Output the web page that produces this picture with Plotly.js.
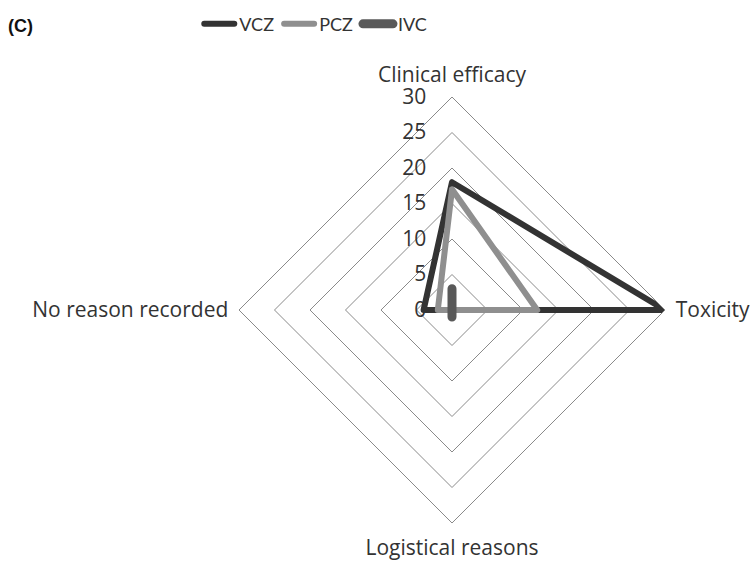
<!DOCTYPE html>
<html><head><meta charset="utf-8">
<script src="https://cdn.plot.ly/plotly-3.0.1.min.js"></script>
<style>
body{margin:0;background:#fff}#chart{width:752px;height:561px}
#chart path.js-line{stroke-linecap:round;stroke-linejoin:round}
</style>
</head><body><div id="chart"></div>
<script>
const categories = ["Clinical efficacy", "Toxicity", "Logistical reasons", "No reason recorded"];
const seriesNames = ["VCZ", "PCZ", "IVC"];
const vczValues = [18, 30, 0, 4];
const pczValues = [17, 12, 0, 2];
const ivcValues = [3, 0, 1, 0];
const radialTicks = [0, 5, 10, 15, 20, 25, 30];

const colors = ["#333333", "#8f8f8f", "#595959"];
const widths = [6, 6, 9];
const allValues = [vczValues, pczValues, ivcValues];

const traces = allValues.map((vals, i) => ({
  type: "scatterpolar",
  mode: "lines",
  name: seriesNames[i],
  r: vals.concat(vals[0]),
  theta: categories.concat(categories[0]),
  line: {color: colors[i], width: widths[i], shape: "linear"},
  hoverinfo: "skip"
}));

const cx = 452, cy = 310, R = 213, W = 752, H = 561;
const layout = {
  width: W, height: H,
  margin: {l: 0, r: 0, t: 0, b: 0},
  paper_bgcolor: "#fff",
  font: {family: "'Open Sans', Lato, sans-serif", color: "#333"},
  showlegend: true,
  legend: {orientation: "h", x: 0.265, y: 0.99, xanchor: "left", yanchor: "top",
           font: {size: 18, family: "'Liberation Sans Narrow', Lato, sans-serif", color: "#333"},
           itemwidth: 30, tracegroupgap: 0},
  polar: {
    domain: {x: [(cx - R) / W, (cx + R) / W], y: [(H - cy - R) / H, (H - cy + R) / H]},
    bgcolor: "#fff",
    gridshape: "linear",
    angularaxis: {
      type: "category",
      categoryarray: categories,
      rotation: 90, direction: "clockwise",
      showgrid: false, showline: true, linecolor: "#8a8a8a", linewidth: 1,
      ticks: "outside", ticklen: 6, tickcolor: "rgba(0,0,0,0)",
      tickfont: {size: 21, color: "#333"}
    },
    radialaxis: {
      range: [0, 30], tickvals: radialTicks, ticktext: radialTicks.map(String),
      angle: 90, tickangle: 90, side: "counterclockwise",
      showline: false, ticks: "outside", ticklen: 18, tickcolor: "rgba(0,0,0,0)",
      gridcolor: "#8a8a8a", gridwidth: 1,
      tickfont: {size: 21, color: "#333"}
    }
  },
  annotations: [{
    text: "<b>(C)</b>", xref: "paper", yref: "paper", x: 0.008, y: 0.975,
    xanchor: "left", yanchor: "top", showarrow: false,
    font: {size: 18, family: "'Liberation Sans', Arial, sans-serif", color: "#111"}
  }]
};

Plotly.newPlot("chart", traces, layout, {displayModeBar: false, staticPlot: true});
</script></body></html>
